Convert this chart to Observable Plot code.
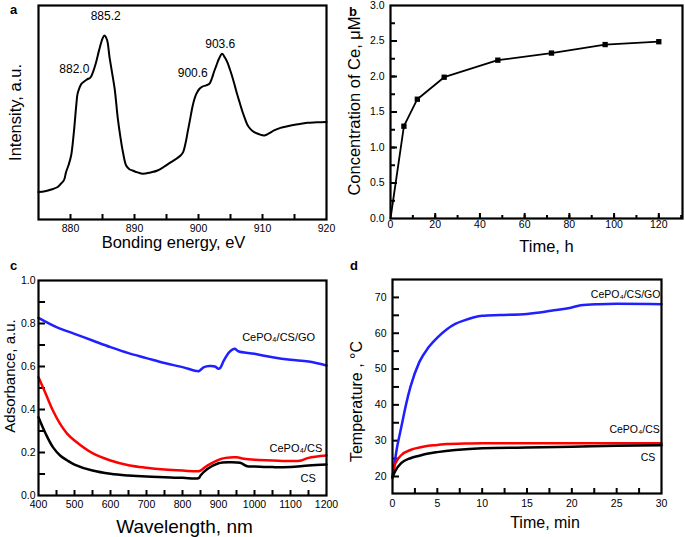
<!DOCTYPE html>
<html><head><meta charset="utf-8">
<script src="https://cdn.jsdelivr.net/npm/d3@7"></script>
<script src="https://cdn.jsdelivr.net/npm/@observablehq/plot@0.6"></script>
<style>
body{margin:0;background:#fff;}
#root{position:relative;width:685px;height:537px;font-family:"Liberation Sans",Arial,sans-serif;overflow:hidden;}
.panel{position:absolute;}
.letter{position:absolute;font-weight:bold;font-size:13px;color:#000;}
</style></head><body><div id="root"></div>
<script>
// ---------- Panel a: XPS Ce 3d ----------
const xpsEnergy = [875,876,877,878,878.5,879,879.3,879.7,880.1,880.5,880.9,881.1,881.4,881.7,882.1,882.6,883.1,883.5,884,884.5,885,885.3,885.7,886.1,886.5,886.9,887.4,887.8,888.2,888.7,889.2,889.7,890.5,891.3,892.5,893.6,894.7,895.7,896.6,897.2,897.6,898.0,898.3,898.7,899.1,899.5,899.8,900.2,900.6,901.2,901.7,902.1,902.4,902.8,903.2,903.7,904.1,904.5,904.9,905.3,905.7,906.1,906.5,906.9,907.3,907.7,908.2,908.7,909.5,910.3,911,911.8,912.8,913.9,915.5,917,918.5,920];
const xpsIntensity = [12.8,13.2,14.0,15.2,16.7,18.5,22.1,25.5,29.9,40,53.3,58.7,61.5,63.4,64.4,65.5,66.3,68.8,73.5,79.5,84.5,86.0,84.0,75.8,68.5,61.1,47,38.5,31.4,25.2,23.5,22.9,22.0,21.4,22.0,22.9,24.8,26.8,28.5,29.9,31.5,36,40.8,47,53.3,57.5,59.5,61.2,62.1,62.7,63.4,66,68.8,72,75.1,77.4,75.8,73.5,70.2,66.5,62.2,57.9,54,50.1,46.8,43.9,42,40.8,39.8,39.3,40.2,41.6,42.8,43.6,44.5,45.2,45.4,45.6];
const xpsPeakLabels = ["882.0","885.2","900.6","903.6"];
const xpsPeakLabelE = [880.6,885.5,899.1,903.4];
const xpsPeakLabelI = [70.4,94.9,68.4,81.8];

// ---------- Panel b: Ce release ----------
const releaseTime = [0,6,12,24,48,72,96,120];
const releaseConc = [0,1.30,1.68,1.99,2.23,2.33,2.45,2.49];

// ---------- Panel c: absorbance ----------
const wlGO = [400,450,500,550,600,650,700,750,800,845,850,860,875,890,900,905,915,930,945,955,1000,1050,1100,1150,1200];
const absGO = [0.826,0.783,0.752,0.721,0.690,0.662,0.639,0.616,0.597,0.578,0.584,0.597,0.602,0.600,0.589,0.594,0.628,0.667,0.682,0.671,0.659,0.643,0.631,0.623,0.605];
const wlCePO4CS = [400,420,440,460,480,500,550,600,650,700,750,800,845,850,870,900,920,950,970,1000,1050,1100,1130,1150,1200];
const absCePO4CS = [0.550,0.473,0.395,0.333,0.287,0.256,0.197,0.163,0.141,0.129,0.121,0.116,0.113,0.116,0.140,0.166,0.175,0.178,0.171,0.166,0.163,0.160,0.163,0.175,0.186];
const wlCS = [400,420,440,460,480,500,550,600,650,700,750,800,845,850,870,900,930,960,980,1000,1050,1100,1150,1200];
const absCS = [0.364,0.287,0.225,0.186,0.163,0.144,0.116,0.101,0.093,0.088,0.085,0.082,0.081,0.093,0.124,0.150,0.155,0.152,0.136,0.135,0.132,0.132,0.140,0.144];
const absLabels = ["CePO₄/CS/GO","CePO₄/CS","CS"];
const absLabelWl = [1067,1115,1149];
const absLabelA = [0.735,0.217,0.078];

// ---------- Panel d: photothermal heating ----------
const tGO = [0,0.5,1,1.5,2,3,4,5,6,7,8,9,10,12,15,17,18,20,21,23,25,30];
const tempGO = [19.5,28,34,40,45,52,56,58.8,61,62.6,63.6,64.4,64.9,65.1,65.4,66,66.4,67.2,67.8,68.1,68.2,68.1];
const tCePO4CS = [0,0.3,1,2,3,4,5,6,8,10,15,20,25,30];
const tempCePO4CS = [20,23.5,26,27.4,28.1,28.6,28.8,29.1,29.2,29.3,29.3,29.3,29.3,29.3];
const tCS = [0,0.3,1,2,3,4,5,7,10,15,20,25,30];
const tempCS = [19.8,21.5,23.8,25.1,25.8,26.4,26.8,27.4,27.9,28.1,28.3,28.6,28.7];
const heatLabels = ["CePO₄/CS/GO","CePO₄/CS","CS"];
const heatLabelT = [26.0,27.0,28.5];
const heatLabelTemp = [70.9,33.0,25.4];

const seriesColors = ["#1f1fff","#ff0000","#000000"];
const FONT = '"Liberation Sans", Arial, sans-serif';

function rng(a,b,s){const out=[];for(let v=a;v<=b+1e-9;v+=s)out.push(+v.toFixed(4));return out;}
function zip(xs,ys){return xs.map((x,i)=>({x,y:ys[i]}));}
function place(svg,left,top){svg.classList.add("panel");svg.style.left=left+"px";svg.style.top=top+"px";document.getElementById("root").appendChild(svg);}

// inward tick marks: axis ticks drawn from the frame edge towards the inside
function inX(ticks,size){return Plot.axisX({ticks,anchor:"top",frameAnchor:"bottom",tickSize:size,stroke:"#000",strokeWidth:2,tickFormat:()=>"",label:null});}
function inY(ticks,size){return Plot.axisY({ticks,anchor:"right",frameAnchor:"left",tickSize:size,stroke:"#000",strokeWidth:2,tickFormat:()=>"",label:null});}
function xTitle(t,dx,dy,fs){return Plot.text([t],{frameAnchor:"bottom",textAnchor:"middle",lineAnchor:"middle",dx,dy,fontSize:fs});}
function yTitle(t,dx,dy,fs){return Plot.text([t],{frameAnchor:"left",textAnchor:"middle",lineAnchor:"middle",rotate:-90,dx,dy,fontSize:fs});}

// ---- Panel a
{
  const data = zip(xpsEnergy,xpsIntensity);
  const labels = xpsPeakLabels.map((t,i)=>({t,x:xpsPeakLabelE[i],y:xpsPeakLabelI[i]}));
  const p = Plot.plot({
    width:340,height:260,marginLeft:38,marginRight:14,marginTop:5,marginBottom:41,
    style:{fontFamily:FONT,background:"transparent",color:"#000"},
    x:{domain:[875,920]}, y:{domain:[0,100],axis:null},
    marks:[
      inX(rng(880,915,5),6),
      Plot.axisX({ticks:rng(880,920,10),tickSize:0,tickPadding:5,fontSize:10.5,label:null,tickFormat:d3.format("d")}),
      Plot.line(data,{x:"x",y:"y",stroke:"#000",strokeWidth:2,curve:"catmull-rom"}),
      Plot.text(labels,{x:"x",y:"y",text:"t",fontSize:12}),
      xTitle("Bonding energy, eV",-9,23,16.5),
      yTitle("Intensity, a.u.",-23,0,16.5),
      Plot.frame({stroke:"#000",strokeWidth:2.2})
    ]
  });
  place(p,0,0);
}
// ---- Panel b
{
  const data = zip(releaseTime,releaseConc);
  const p = Plot.plot({
    width:345,height:260,marginLeft:50,marginRight:3,marginTop:5,marginBottom:42,
    style:{fontFamily:FONT,background:"transparent",color:"#000"},
    x:{domain:[0,130.6]}, y:{domain:[0,3]},
    marks:[
      inX(rng(10,130,10),4),
      inX(rng(20,120,20),6),
      Plot.axisX({ticks:rng(0,120,20),tickSize:0,tickPadding:2,fontSize:10.5,label:null,tickFormat:d3.format("d")}),
      inY(rng(0.25,2.75,0.25),4),
      inY(rng(0.5,2.5,0.5),6),
      Plot.axisY({ticks:rng(0,3,0.5),tickSize:0,tickPadding:6,fontSize:10.5,label:null,tickFormat:d3.format(".1f")}),
      Plot.line(data,{x:"x",y:"y",stroke:"#000",strokeWidth:1.8}),
      Plot.dot(data.filter(d=>d.x>0),{x:"x",y:"y",symbol:"square",fill:"#000",r:3}),
      xTitle("Time, h",10,28,16.5),
      yTitle("Concentration of Ce, μM",-35.5,-6,16.5),
      Plot.frame({stroke:"#000",strokeWidth:2.2})
    ]
  });
  place(p,340,0);
}
// ---- Panel c
{
  const series = [zip(wlGO,absGO),zip(wlCePO4CS,absCePO4CS),zip(wlCS,absCS)];
  const labels = absLabels.map((t,i)=>({t,x:absLabelWl[i],y:absLabelA[i]}));
  const p = Plot.plot({
    width:340,height:277,marginLeft:38,marginRight:14,marginTop:20,marginBottom:42,
    style:{fontFamily:FONT,background:"transparent",color:"#000"},
    x:{domain:[400,1200]}, y:{domain:[0,1]},
    marks:[
      inX(rng(450,1150,50),6),
      Plot.axisX({ticks:rng(400,1200,100),tickSize:0,tickPadding:5,fontSize:10.5,label:null,tickFormat:d3.format("d")}),
      inY(rng(0.1,0.9,0.1),6),
      Plot.axisY({ticks:rng(0,1,0.2),tickSize:0,tickPadding:3,fontSize:10.5,label:null,tickFormat:d3.format(".1f")}),
      ...series.map((s,i)=>Plot.line(s,{x:"x",y:"y",stroke:seriesColors[i],strokeWidth:2.5,curve:"catmull-rom"})),
      Plot.text(labels,{x:"x",y:"y",text:"t",fontSize:11}),
      xTitle("Wavelength, nm",2,31,19),
      yTitle("Adsorbance, a.u.",-28,-12,15),
      Plot.frame({stroke:"#000",strokeWidth:2.2})
    ]
  });
  place(p,0,260);
}
// ---- Panel d
{
  const series = [zip(tGO,tempGO),zip(tCePO4CS,tempCePO4CS),zip(tCS,tempCS)];
  const labels = heatLabels.map((t,i)=>({t,x:heatLabelT[i],y:heatLabelTemp[i]}));
  const p = Plot.plot({
    width:345,height:277,marginLeft:52,marginRight:24,marginTop:19,marginBottom:44,
    style:{fontFamily:FONT,background:"transparent",color:"#000"},
    x:{domain:[0,30]}, y:{domain:[15.25,75]},
    marks:[
      inX(rng(2.5,27.5,2.5),6),
      Plot.axisX({ticks:rng(0,30,5),tickSize:0,tickPadding:6,fontSize:10.5,label:null,tickFormat:d3.format("d")}),
      inY(rng(20,70,5),6),
      Plot.axisY({ticks:rng(20,70,10),tickSize:0,tickPadding:6,fontSize:10.5,label:null,tickFormat:d3.format("d")}),
      ...series.map((s,i)=>Plot.line(s,{x:"x",y:"y",stroke:seriesColors[i],strokeWidth:2.5,curve:"monotone-x"})),
      Plot.text(labels,{x:"x",y:"y",text:"t",fontSize:10.5}),
      xTitle("Time, min",18,29,16),
      yTitle("Temperature , °C",-36,15,16),
      Plot.frame({stroke:"#000",strokeWidth:2.2})
    ]
  });
  place(p,340,260);
}
// panel letters
[["a",10,2],["b",349,4],["c",10,258],["d",350,258]].forEach(([t,x,y])=>{
  const d=document.createElement("div");d.className="letter";d.textContent=t;d.style.left=x+"px";d.style.top=y+"px";
  document.getElementById("root").appendChild(d);
});
</script>
</body></html>
